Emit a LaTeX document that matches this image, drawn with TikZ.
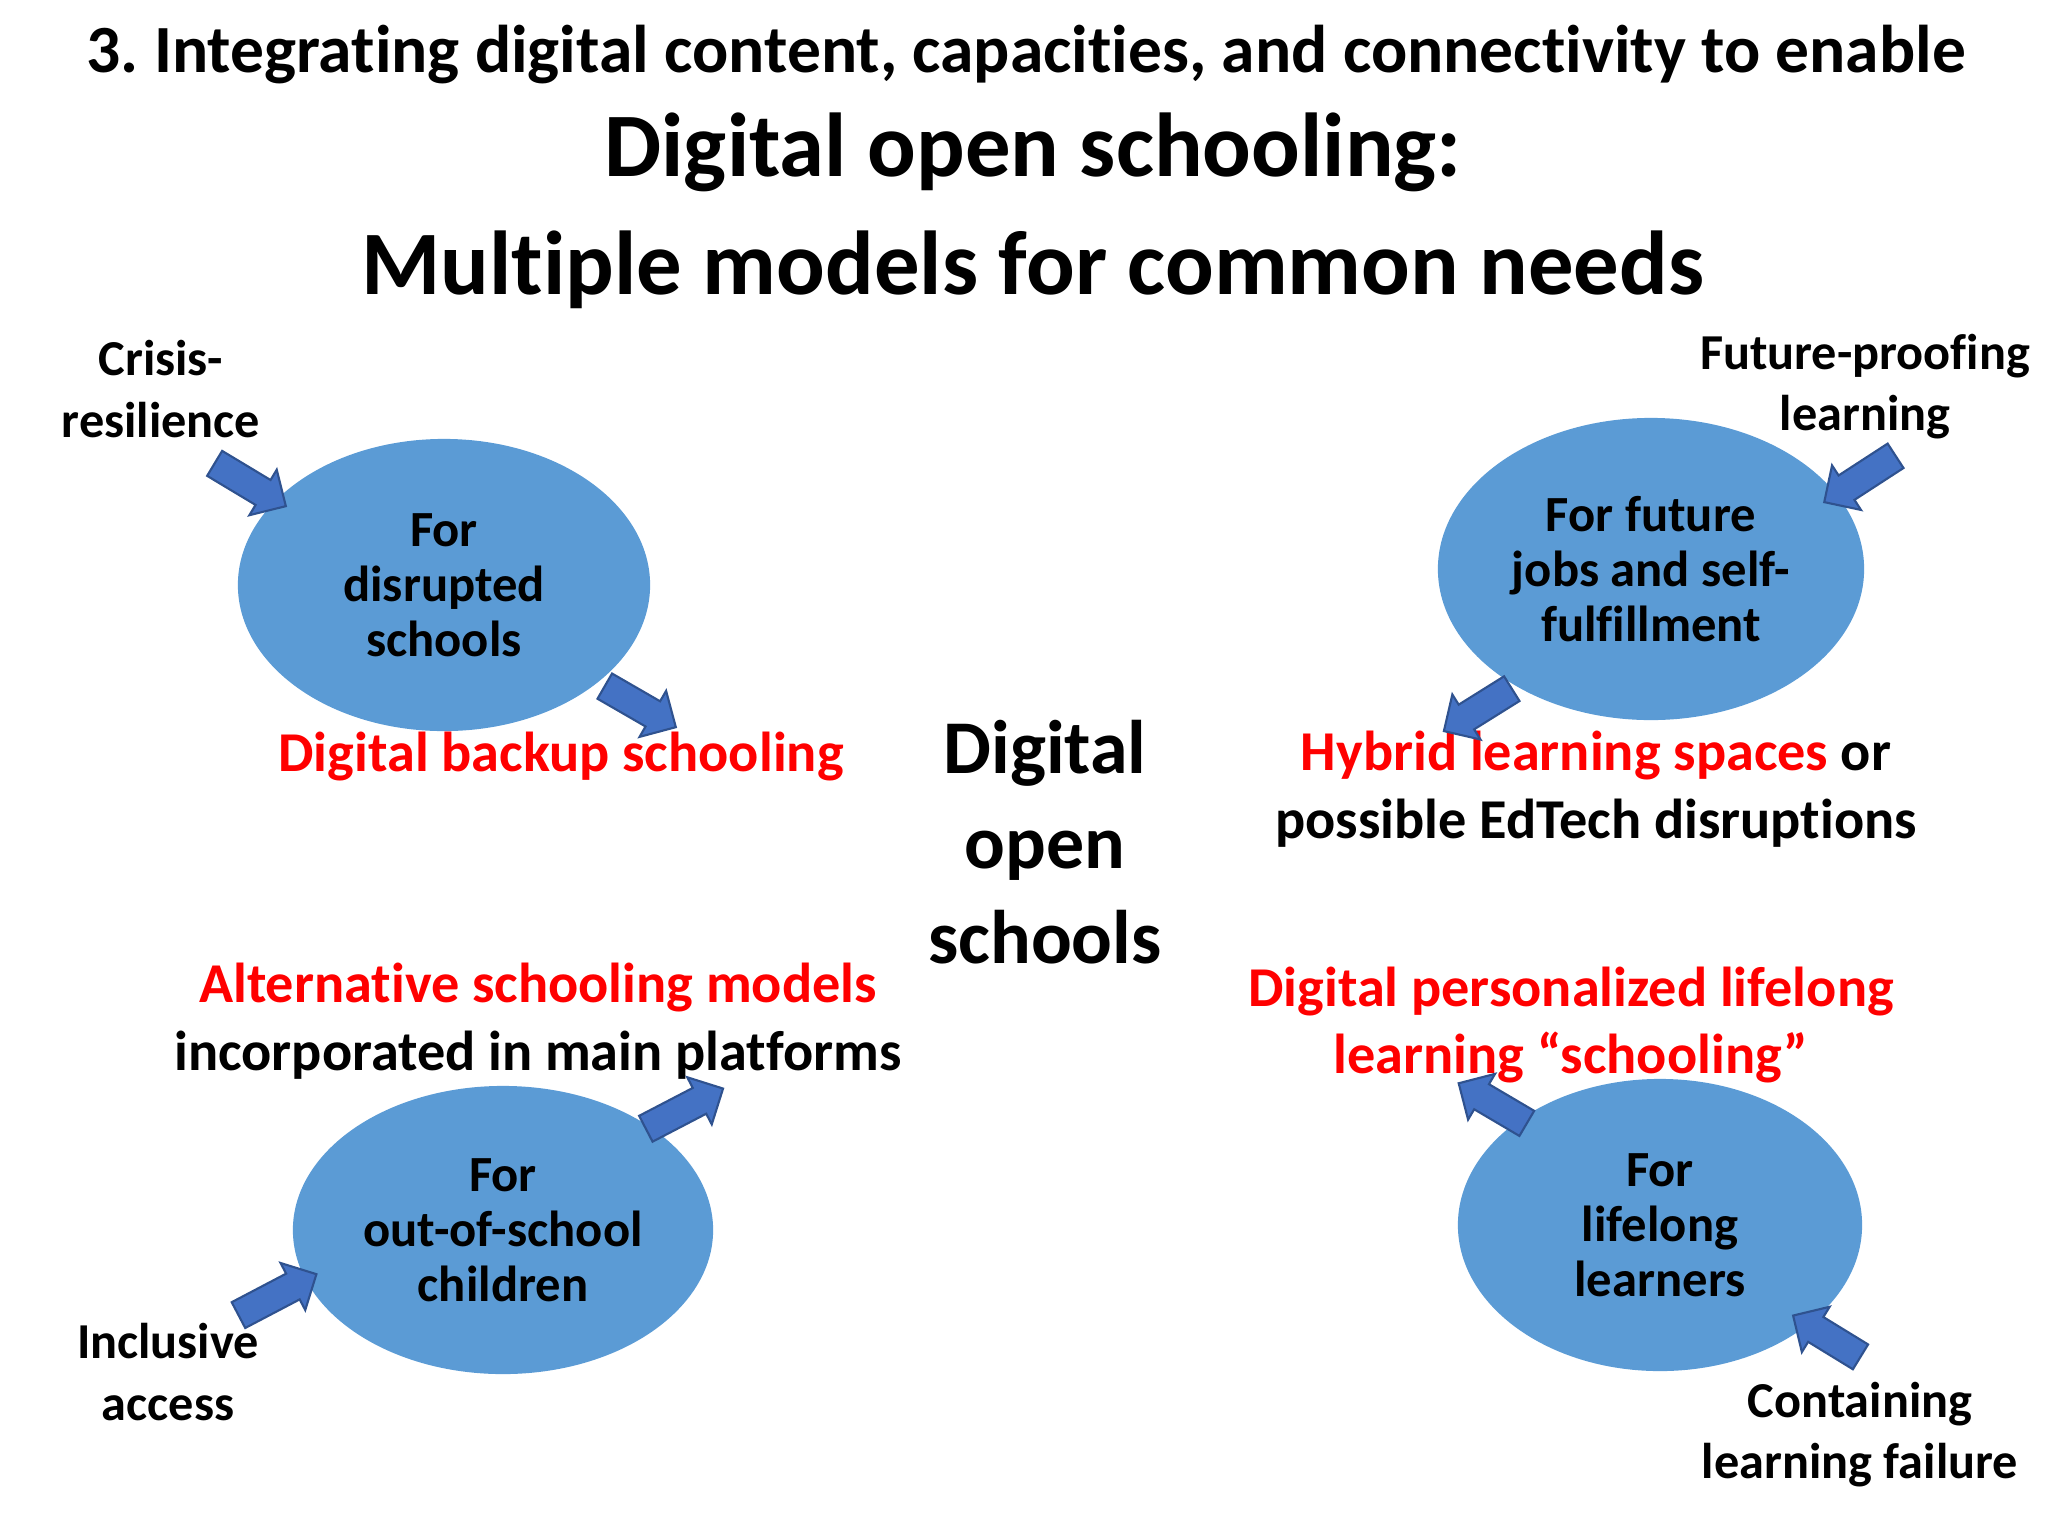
\documentclass[tikz,border=0pt]{standalone}
\usepackage{fontspec}
\setmainfont{Carlito}[Ligatures=CommonOff]
\usetikzlibrary{shapes.geometric,shapes.arrows}
\definecolor{ovalblue}{HTML}{5B9BD5}
\definecolor{arrblue}{HTML}{4472C4}
\definecolor{arredge}{HTML}{2F528F}
\definecolor{hired}{HTML}{FF0000}
\frenchspacing

\begin{document}
\begin{tikzpicture} [x=0.01cm,y=-0.01cm,
 every node/.style={align=center,inner sep=0pt,font=\bfseries},
 oval/.style={ellipse,fill=ovalblue,font=\fontsize{14.4}{15.6}\selectfont\bfseries},
 blockarrow/.style={single arrow,fill=arrblue,draw=arredge,line width=0.6pt,inner sep=0.135cm,single arrow head extend=0.12cm},
 redlbl/.style={text=hired,font=\fontsize{16}{19.3}\selectfont\bfseries},
 smalllbl/.style={font=\fontsize{14.3}{17.4}\selectfont\bfseries},
]
    \useasboundingbox (0,0) rectangle (2048,1536);
    % heading
    \node[font=\fontsize{19.2}{20}\selectfont\bfseries] (head) at (1026,55) {3. Integrating digital content, capacities, and connectivity to enable};
    \node[font=\fontsize{25.8}{33.6}\selectfont\bfseries] (title) at (1033,211) {Digital open schooling:\\Multiple models for common needs};
    \node[font=\fontsize{21.6}{27}\selectfont\bfseries] (centre) at (1045,842) {Digital\\open\\schools};
    % the four models
    \node[oval,minimum width=4.12cm,minimum height=2.92cm] (disrupted) at (444,585) {For\\disrupted\\schools};
    \node[oval,minimum width=4.26cm,minimum height=3.02cm] (future) at (1651,569) {For future\\jobs and self-\\fulfillment};
    \node[oval,minimum width=4.20cm,minimum height=2.88cm] (outschool) at (503,1230) {For\\out-of-school\\children};
    \node[oval,minimum width=4.04cm,minimum height=2.92cm] (lifelong) at (1660,1225) {For\\lifelong\\learners};
    % drivers
    \node[smalllbl] (crisis) at (161,389) {Crisis-\\resilience};
    \node[smalllbl] (proof) at (1865,387) {Future-proofing\\learning};
    \node[smalllbl] (inclusive) at (168,1372) {Inclusive\\access};
    \node[smalllbl] (failure) at (1860,1435) {Containing\\learning failure};
    % outcomes
    \node[redlbl] (backup) at (561,757) {Digital backup schooling};
    \node[redlbl,text=black] (hybrid) at (1596,789) {\textcolor{hired}{Hybrid learning spaces} or\\possible EdTech disruptions};
    \node[redlbl,text=black] (altern) at (538,1021) {\textcolor{hired}{Alternative schooling models}\\incorporated in main platforms};
    \node[redlbl] (personal) at (1571,1025) {Digital personalized lifelong\\learning “schooling”};
    % block arrows
    \node[blockarrow,minimum height=0.83cm,rotate=-31] (a1) at (244,481) {};
    \node[blockarrow,minimum height=0.82cm,rotate=-30] (a2) at (634,703) {};
    \node[blockarrow,minimum height=0.80cm,rotate=212] (a3) at (1484,706) {};
    \node[blockarrow,minimum height=0.85cm,rotate=213] (a4) at (1866,475) {};
    \node[blockarrow,minimum height=0.87cm,rotate=27.5] (a5) at (678,1112) {};
    \node[blockarrow,minimum height=0.88cm,rotate=27.7] (a6) at (271,1298) {};
    \node[blockarrow,minimum height=0.79cm,rotate=149.5] (a7) at (1499,1107) {};
    \node[blockarrow,minimum height=0.79cm,rotate=148.5] (a8) at (1833,1340) {};
\end{tikzpicture}
\end{document}
